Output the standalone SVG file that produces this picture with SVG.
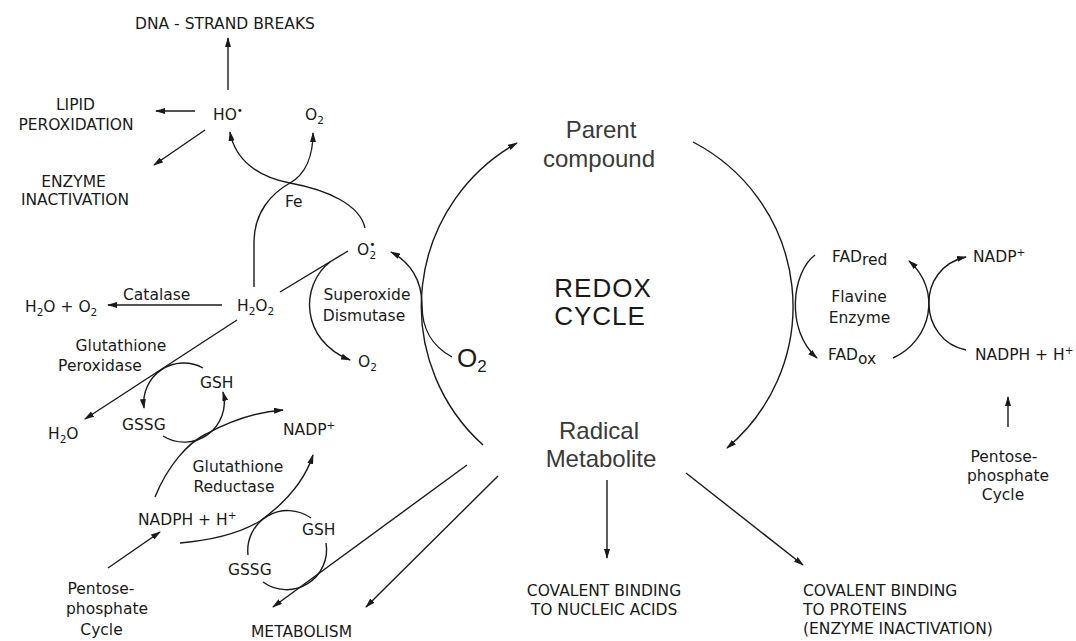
<svg xmlns="http://www.w3.org/2000/svg" width="1076" height="641" viewBox="0 0 1076 641">
<style>
.t{font-family:"DejaVu Sans","Liberation Sans",sans-serif;font-size:15.5px;fill:#1a1a1a}
.c{text-anchor:middle}
.big{font-family:"Liberation Sans",Arial,sans-serif;font-size:24px;fill:#3a3a3a;text-anchor:middle}
.rx{font-family:"Liberation Sans",Arial,sans-serif;font-size:26px;fill:#1a1a1a;text-anchor:middle;letter-spacing:1px}
.s{font-size:10.5px}
.ln{fill:none;stroke:#1a1a1a;stroke-width:1.4}
</style>
<defs>
<marker id="ah" viewBox="0 0 10 6" refX="9" refY="3" markerWidth="10" markerHeight="6" markerUnits="userSpaceOnUse" orient="auto"><path d="M0,0 L10,3 L0,6 z" fill="#1a1a1a"/></marker>
</defs>

<g id="connectors" class="ln">
<path d="M228,90 L228,38" marker-end="url(#ah)"/>
<path d="M195,111 L156,111" marker-end="url(#ah)"/>
<path d="M205,130 L154,165" marker-end="url(#ah)"/>
<path d="M365,228 C360,205 328,190 290,183 C258,177 235,160 230,132" marker-end="url(#ah)"/>
<path d="M254,287 L254,242 C254,212 272,193 290,183 C306,174 313,155 313,133" marker-end="url(#ah)"/>
<path d="M280,292 L348,251"/>
<path d="M330,262 C300,285 300,340 350,360" marker-end="url(#ah)"/>
<path d="M452,357 C432,346 422,330 422,305 C422,280 410,262 391,252" marker-end="url(#ah)"/>
<path d="M222,305 L108,305" marker-end="url(#ah)"/>
<path d="M237,320 L85,419" marker-end="url(#ah)"/>
<path d="M203,368 A40,40 0 0 0 144,408" marker-end="url(#ah)"/>
<path d="M163,436 A40,40 0 0 0 223,392" marker-end="url(#ah)"/>
<path d="M155,497 C168,465 188,443 206,434 C230,421 255,412 283,410" marker-end="url(#ah)"/>
<path d="M180,543 C215,540 242,532 260,521 C285,503 305,480 313,455" marker-end="url(#ah)"/>
<path d="M248,555 A40,40 0 0 1 311,518"/>
<path d="M326,543 A40,40 0 0 1 263,582"/>
<path d="M108,568 L160,532" marker-end="url(#ah)"/>
<path d="M467,465 L273,607" marker-end="url(#ah)"/>
<path d="M498,476 L366,607" marker-end="url(#ah)"/>
<path d="M483,445 A187,187 0 0 1 517,143" marker-end="url(#ah)"/>
<path d="M693,142 A185,185 0 0 1 727,448" marker-end="url(#ah)"/>
<path d="M607,480 L607,558" marker-end="url(#ah)"/>
<path d="M686,473 L803,565" marker-end="url(#ah)"/>
<path d="M815,255 C792,272 785,330 817,358" marker-end="url(#ah)"/>
<path d="M893,358 C932,340 942,290 909,261" marker-end="url(#ah)"/>
<path d="M966,350 C918,340 915,268 966,257" marker-end="url(#ah)"/>
<path d="M1008,427 L1008,397" marker-end="url(#ah)"/>
</g>

<g id="dna"><text class="t c" x="225" y="29">DNA - STRAND BREAKS</text></g>
<g id="lipid"><text class="t c" x="75.5" y="110">LIPID</text><text class="t c" x="76" y="130">PEROXIDATION</text></g>
<g id="enzinact"><text class="t c" x="73.5" y="187">ENZYME</text><text class="t c" x="75" y="205">INACTIVATION</text></g>
<g id="ho"><text class="t" x="213" y="120">HO<tspan class="s" dy="-6">•</tspan></text></g>
<g id="o2top"><text class="t" x="305" y="120">O<tspan class="s" dy="4">2</tspan></text></g>
<g id="fe"><text class="t" x="285" y="207">Fe</text></g>
<g id="superoxide"><text class="t" x="357" y="255">O<tspan class="s" dy="-7">•</tspan><tspan class="s" dx="-6" dy="11">2</tspan></text></g>
<g id="h2o2"><text class="t" x="237" y="311">H<tspan class="s" dy="4">2</tspan><tspan dy="-4">O</tspan><tspan class="s" dy="4">2</tspan></text></g>
<g id="catalase"><text class="t" x="123" y="300">Catalase</text></g>
<g id="h2oo2"><text class="t" x="25" y="312">H<tspan class="s" dy="4">2</tspan><tspan dy="-4">O + O</tspan><tspan class="s" dy="4">2</tspan></text></g>
<g id="sod"><text class="t c" x="367" y="300">Superoxide</text><text class="t c" x="364" y="321">Dismutase</text></g>
<g id="o2sod"><text class="t" x="358" y="367">O<tspan class="s" dy="4">2</tspan></text></g>
<g id="gpx"><text class="t c" x="121" y="351">Glutathione</text><text class="t c" x="100" y="371">Peroxidase</text></g>
<g id="gsh1"><text class="t" x="200" y="388">GSH</text></g>
<g id="gssg1"><text class="t" x="122" y="430">GSSG</text></g>
<g id="h2o"><text class="t" x="48" y="439">H<tspan class="s" dy="4">2</tspan><tspan dy="-4">O</tspan></text></g>
<g id="nadp1"><text class="t" x="283" y="435">NADP<tspan class="s" dy="-6">+</tspan></text></g>
<g id="gr"><text class="t c" x="238" y="472">Glutathione</text><text class="t c" x="234" y="492">Reductase</text></g>
<g id="nadph1"><text class="t" x="138" y="525">NADPH + H<tspan class="s" dy="-6">+</tspan></text></g>
<g id="gsh2"><text class="t" x="302" y="535">GSH</text></g>
<g id="gssg2"><text class="t" x="228" y="575">GSSG</text></g>
<g id="ppc1"><text class="t c" x="101" y="594">Pentose-</text><text class="t c" x="107" y="614">phosphate</text><text class="t c" x="101.5" y="635">Cycle</text></g>
<g id="metabolism"><text class="t c" x="301.5" y="637">METABOLISM</text></g>
<g id="parent"><text class="big" x="601" y="138">Parent</text><text class="big" x="599" y="167">compound</text></g>
<g id="redox"><text class="rx" x="603" y="297">REDOX</text><text class="rx" x="600" y="325">CYCLE</text></g>
<g id="o2big"><text class="t" x="457" y="367" style="font-family:'Liberation Sans',Arial,sans-serif;font-size:26px">O<tspan dy="5" style="font-size:17px">2</tspan></text></g>
<g id="radical"><text class="big" x="599" y="439">Radical</text><text class="big" x="601" y="467">Metabolite</text></g>
<g id="cbna"><text class="t c" x="604" y="596">COVALENT BINDING</text><text class="t c" x="604" y="615">TO NUCLEIC ACIDS</text></g>
<g id="cbp"><text class="t" x="803" y="596">COVALENT BINDING</text><text class="t" x="803" y="615">TO PROTEINS</text><text class="t" x="803" y="634">(ENZYME INACTIVATION)</text></g>
<g id="fadred"><text class="t" x="832" y="262">FAD<tspan dy="3">red</tspan></text></g>
<g id="nadp2"><text class="t" x="973" y="262">NADP<tspan class="s" dy="-6">+</tspan></text></g>
<g id="flavine"><text class="t c" x="859" y="302">Flavine</text><text class="t c" x="859.5" y="323">Enzyme</text></g>
<g id="fadox"><text class="t" x="828" y="360">FAD<tspan dy="4">ox</tspan></text></g>
<g id="nadph2"><text class="t" x="975" y="360">NADPH + H<tspan class="s" dy="-6">+</tspan></text></g>
<g id="ppc2"><text class="t c" x="1004" y="462">Pentose-</text><text class="t c" x="1008" y="481">phosphate</text><text class="t c" x="1003" y="500">Cycle</text></g>
</svg>
